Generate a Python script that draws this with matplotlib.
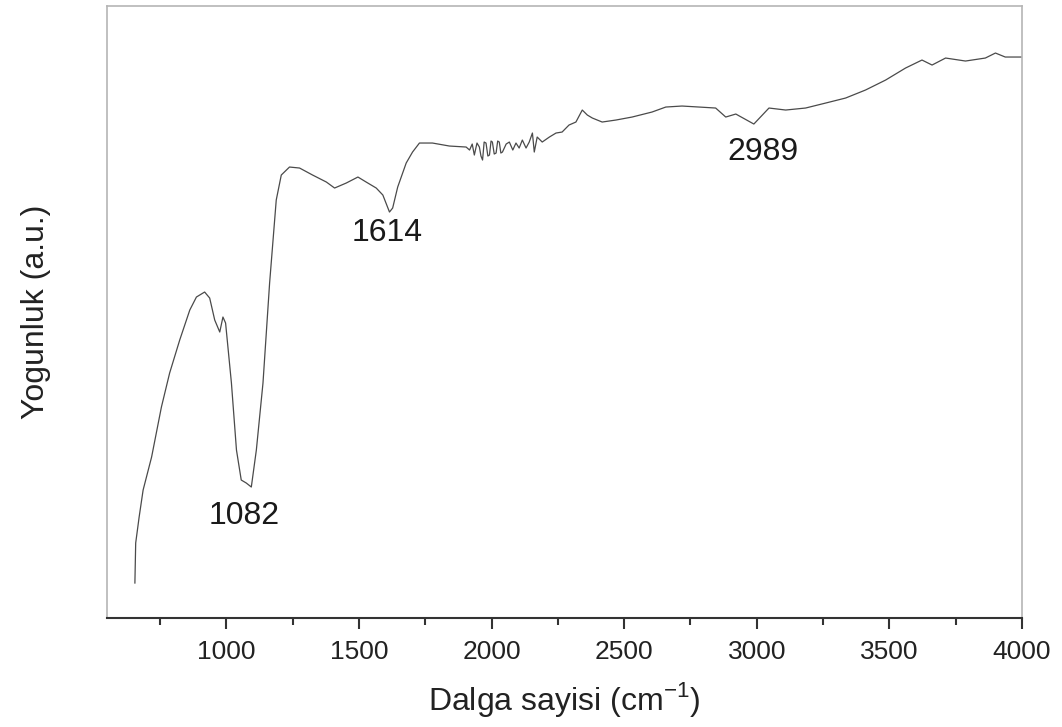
import numpy as np
import matplotlib.pyplot as plt
from matplotlib.ticker import MultipleLocator

plt.rcParams['font.family'] = ['Liberation Sans', 'DejaVu Sans']

# FTIR spektrumu (okunan degerler)
wavenumber = [655, 658, 671, 686, 718, 755, 786, 824, 862, 887, 918, 937, 956, 975, 987, 997,
              1019, 1038, 1056, 1075, 1094, 1113, 1138, 1163, 1188, 1207, 1238, 1276, 1325,
              1377, 1408, 1452, 1496, 1527, 1565, 1590, 1615, 1627, 1646, 1678, 1702, 1728,
              1777, 1841, 1904, 1917, 1927, 1935, 1945, 1954, 1960, 1966, 1972, 1979, 1986,
              1992, 1998, 2003, 2010, 2017, 2023, 2029, 2035, 2041, 2055,
              2067, 2080, 2092, 2104, 2116, 2130, 2142, 2154, 2161, 2172, 2191, 2218, 2243,
              2266, 2292, 2318, 2342, 2361, 2380, 2417, 2469, 2530, 2605, 2657, 2718, 2782,
              2845, 2883, 2921, 2989, 3046, 3109, 3184, 3260, 3335, 3410, 3486, 3561, 3623,
              3661, 3712, 3787, 3862, 3900, 3937, 4000]
intensity = [35, 75, 101, 128, 161, 211, 245, 278, 308, 321, 326, 320, 298, 286, 301, 295,
             235, 168, 138, 135, 131, 168, 235, 335, 418, 443, 451, 450, 443,
             436, 430, 435, 441, 436, 430, 423, 406, 410, 431, 455, 466, 475,
             475, 472, 471, 468, 474, 463, 475, 471, 462, 458, 476, 475, 462,
             463, 477, 476, 464, 465, 477, 476, 465, 466, 474,
             476, 468, 475, 470, 478, 470, 476, 485, 466, 481, 476, 481, 485,
             486, 493, 496, 508, 503, 500, 496, 498, 501, 506, 511, 512, 511,
             510, 501, 504, 494, 510, 508, 510, 515, 520, 528, 538, 550, 558,
             553, 560, 557, 560, 565, 561, 561]

peak_labels = ['1082', '1614', '2989']
peak_x = [1069, 1607, 3024]
peak_y = [102, 385, 466]

fig = plt.figure(figsize=(10.62, 7.27), dpi=100)
ax = fig.add_axes([0.1008, 0.1499, 0.8615, 0.8418])

ax.plot(wavenumber, intensity, color='#4a4a4a', lw=0.9)

for lab, px, py in zip(peak_labels, peak_x, peak_y):
    ax.text(px, py, lab, ha='center', va='center', fontsize=23, color='#1a1a1a')

ax.set_xlim(550, 4000)
ax.set_ylim(0, 612)
ax.xaxis.set_minor_locator(MultipleLocator(250))
ax.set_xticks(np.arange(1000, 4001, 500))
ax.set_yticks([])
ax.tick_params(axis='x', which='major', length=8, width=1.5, color='#333333',
               labelsize=19, labelcolor='#222222', pad=8)
ax.tick_params(axis='x', which='minor', length=5, width=1.5, color='#333333')

for side in ['left', 'top', 'right']:
    ax.spines[side].set_color('#b5b5b5')
    ax.spines[side].set_linewidth(1.2)
ax.spines['bottom'].set_color('#333333')
ax.spines['bottom'].set_linewidth(1.5)

ax.set_xlabel('Dalga sayisi (cm$^{\\mathregular{-1}}$)', fontsize=23, color='#222222', labelpad=11)
ax.set_ylabel('Yogunluk (a.u.)', fontsize=23, color='#222222', labelpad=40)

fig.savefig('out.png', dpi=100)
